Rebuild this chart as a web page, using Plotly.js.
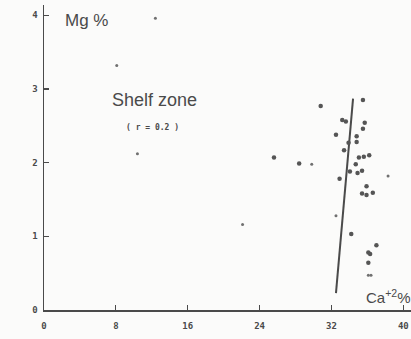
<!DOCTYPE html>
<html>
<head>
<meta charset="utf-8">
<script src="https://cdn.plot.ly/plotly-3.0.1.min.js"></script>
<style>html,body{margin:0;padding:0;background:#fbfbfa;}#chart{width:411px;height:339px;}</style>
</head>
<body>
<div id="chart"></div>
<script>
// Ca %, Mg % — main (dark) points
const caMain = [30.8, 35.5, 33.2, 33.6, 35.5, 35.7, 32.5, 34.8, 34.8, 33.9, 33.4, 28.4, 35.05, 35.6, 36.2, 34.7, 34.05, 34.9, 35.4, 32.9, 35.9, 35.4, 35.9, 36.6, 34.2, 37.0, 36.1, 36.3, 36.1, 25.6];
const mgMain = [2.77, 2.85, 2.58, 2.56, 2.46, 2.54, 2.38, 2.36, 2.28, 2.27, 2.17, 1.99, 2.07, 2.08, 2.10, 1.98, 1.88, 1.86, 1.89, 1.78, 1.68, 1.58, 1.56, 1.59, 1.03, 0.88, 0.78, 0.76, 0.64, 2.07];
// faint / small points
const caMinor = [29.8, 38.3, 36.1, 36.4, 22.1, 10.4, 8.1, 12.4, 32.5];
const mgMinor = [1.98, 1.82, 0.47, 0.47, 1.16, 2.12, 3.32, 3.96, 1.28];
// fitted line end points
const lineCa = [34.4, 32.5];
const lineMg = [2.87, 0.23];
const xTicks = [0, 8, 16, 24, 32, 40];
const yTicks = [0, 1, 2, 3, 4];

const ink = '#4a4a4a';
const traces = [
  {x: lineCa, y: lineMg, mode: 'lines', line: {color: ink, width: 2}, hoverinfo: 'skip', cliponaxis: false},
  {x: caMain, y: mgMain, mode: 'markers', marker: {color: '#555555', size: 4.5}, cliponaxis: false},
  {x: caMinor, y: mgMinor, mode: 'markers', marker: {color: '#707070', size: 3}, cliponaxis: false}
];
const axisFont = {family: 'DejaVu Sans Mono, monospace', size: 9, color: ink, weight: 'bold'};
const layout = {
  width: 411, height: 339,
  margin: {l: 44, r: 0, t: 5, b: 29},
  paper_bgcolor: '#fbfbfa', plot_bgcolor: '#fbfbfa',
  showlegend: false,
  xaxis: {range: [0, 40.85], showgrid: false, zeroline: false, showline: true, linecolor: ink, linewidth: 1.5,
          ticks: 'inside', ticklen: 5, tickwidth: 1.2, tickcolor: ink,
          tickvals: xTicks, ticktext: xTicks.map(String), tickfont: axisFont, ticklabelstandoff: 7},
  yaxis: {range: [0, 4.14], showgrid: false, zeroline: false, showline: true, linecolor: ink, linewidth: 1.5,
          ticks: 'inside', ticklen: 5, tickwidth: 1.2, tickcolor: ink,
          tickvals: yTicks, ticktext: yTicks.map(String), tickfont: axisFont, ticklabelstandoff: 3},
  annotations: [
    {x: 2.06, y: 3.93, xref: 'x', yref: 'y', xanchor: 'left', yanchor: 'middle', showarrow: false,
     text: 'Mg %', font: {family: 'Liberation Sans, Arial, sans-serif', size: 17, color: ink}},
    {x: 7.4, y: 2.85, xref: 'x', yref: 'y', xanchor: 'left', yanchor: 'middle', showarrow: false,
     text: 'Shelf zone', font: {family: 'Liberation Sans, Arial, sans-serif', size: 18, color: ink}},
    {x: 8.85, y: 2.48, xref: 'x', yref: 'y', xanchor: 'left', yanchor: 'middle', showarrow: false,
     text: '( r = 0.2 )', font: {family: 'DejaVu Sans Mono, monospace', size: 8, color: ink, weight: 'bold'}},
    {x: 35.6, y: 0.19, xref: 'x', yref: 'y', xanchor: 'left', yanchor: 'middle', showarrow: false,
     text: 'Ca<sup>+2</sup>%', font: {family: 'Liberation Sans, Arial, sans-serif', size: 15, color: ink}}
  ]
};
Plotly.newPlot('chart', traces, layout, {displayModeBar: false, staticPlot: true});
</script>
</body>
</html>
